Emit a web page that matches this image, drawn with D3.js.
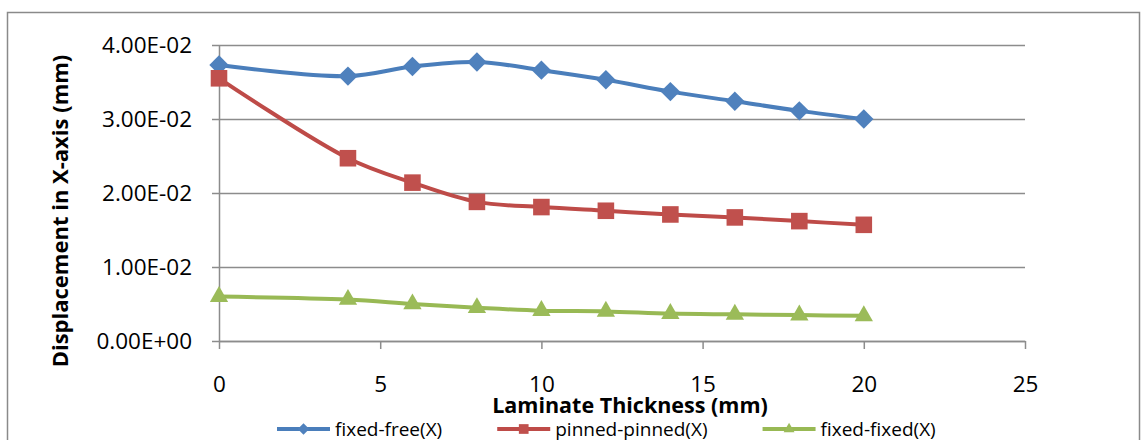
<!DOCTYPE html>
<html>
<head>
<meta charset="utf-8">
<script src="https://cdn.jsdelivr.net/npm/d3@7"></script>
<style>
  html, body { margin: 0; padding: 0; background: #fff; }
  svg { display: block; font-family: "Open Sans", "Noto Sans", sans-serif; }
</style>
</head>
<body>
<svg id="chart" width="1144" height="440"></svg>
<script>
// Laminate thickness (mm) at which each displacement was computed
const thickness = [0, 4, 6, 8, 10, 12, 14, 16, 18, 20];

// Displacement in X (mm) for each boundary condition
const fixedFree     = [0.0373, 0.0358, 0.0371, 0.0377, 0.0366, 0.0353, 0.0337, 0.0324, 0.0311, 0.0300];
const pinnedPinned  = [0.0355, 0.0247, 0.0214, 0.0188, 0.0181, 0.0176, 0.0171, 0.0167, 0.0162, 0.0157];
const fixedFixed    = [0.0060, 0.0056, 0.0050, 0.0045, 0.0041, 0.0040, 0.0037, 0.0036, 0.0035, 0.0034];

const seriesNames = ["fixed-free(X)", "pinned-pinned(X)", "fixed-fixed(X)"];
const xTicks = [0, 5, 10, 15, 20, 25];
const yTicks = [0, 0.01, 0.02, 0.03, 0.04];
const xTitle = "Laminate Thickness (mm)";
const yTitle = "Displacement in X-axis (mm)";

const series = [
  { name: seriesNames[0], values: fixedFree,    color: "#4A7EBB", fill: "#4F81BD", symbol: d3.symbolDiamond2, size: 240, legendSize: 85 },
  { name: seriesNames[1], values: pinnedPinned, color: "#BE4B48", fill: "#C0504D", symbol: d3.symbolSquare2,  size: 350, legendSize: 120 },
  { name: seriesNames[2], values: fixedFixed,   color: "#98B954", fill: "#9BBB59", symbol: d3.symbolTriangle2, size: 240, legendSize: 85 }
];

const svg = d3.select("#chart");

// chart frame
svg.append("rect")
  .attr("x", 7.5).attr("y", 12.5)
  .attr("width", 1132).attr("height", 440)
  .attr("fill", "#fff").attr("stroke", "#8a8a8a").attr("stroke-width", 1.5);

const x = d3.scaleLinear().domain([0, 25]).range([219, 1025]);
const y = d3.scaleLinear().domain([0, 0.04]).range([341, 45]);

// Excel-style scientific labels, e.g. 4.00E-02
function sci(v) {
  const [m, e] = v.toExponential(2).split("e");
  const n = parseInt(e, 10);
  return m + "E" + (n < 0 ? "-" : "+") + String(Math.abs(n)).padStart(2, "0");
}

// horizontal gridlines + y axis
const yAxis = d3.axisLeft(y).tickValues(yTicks).tickFormat(sci)
  .tickSizeInner(-(x.range()[1] - x.range()[0])).tickSizeOuter(0).tickPadding(0);
const gy = svg.append("g").attr("transform", `translate(${x.range()[0]},0)`).call(yAxis);
gy.select(".domain").attr("stroke", "#8c8c8c").attr("stroke-width", 1.5);
gy.selectAll(".tick line").attr("stroke", "#8c8c8c").attr("stroke-width", 1.5)
  .attr("x1", -7);
gy.selectAll(".tick text")
  .attr("x", -27).attr("dy", "0.35em")
  .attr("font-size", 22.5).attr("fill", "#000")
  .attr("font-family", "Open Sans");

// x axis
const xAxis = d3.axisBottom(x).tickValues(xTicks).tickFormat(d3.format("d"))
  .tickSizeInner(8).tickSizeOuter(0).tickPadding(0);
const gx = svg.append("g").attr("transform", `translate(0,${y(0)})`).call(xAxis);
gx.select(".domain").attr("stroke", "#8c8c8c").attr("stroke-width", 1.5);
gx.selectAll(".tick line").attr("stroke", "#8c8c8c").attr("stroke-width", 1.5);
gx.selectAll(".tick text")
  .attr("y", 51).attr("dy", 0)
  .attr("font-size", 22.5).attr("fill", "#000")
  .attr("font-family", "Open Sans");

// axis titles
svg.append("text")
  .attr("x", 630).attr("y", 413)
  .attr("text-anchor", "middle")
  .attr("font-size", 21.5).attr("font-weight", "bold")
  .text(xTitle);

svg.append("text")
  .attr("transform", "translate(68,211) rotate(-90)")
  .attr("text-anchor", "middle")
  .attr("font-size", 22).attr("font-weight", "bold")
  .text(yTitle);

// smoothed series lines with markers
const line = d3.line()
  .x((d, i) => x(thickness[i]))
  .y(d => y(d))
  .curve(d3.curveCatmullRom.alpha(0.5));

series.forEach(s => {
  svg.append("path")
    .attr("d", line(s.values))
    .attr("fill", "none")
    .attr("stroke", s.color)
    .attr("stroke-width", 4)
    .attr("stroke-linejoin", "round");

  const sym = d3.symbol().type(s.symbol).size(s.size);
  svg.append("g").selectAll("path")
    .data(s.values)
    .join("path")
    .attr("d", sym)
    .attr("transform", (d, i) => `translate(${x(thickness[i])},${y(d)})`)
    .attr("fill", s.fill);
});

// legend along the bottom
const legend = svg.append("g").attr("transform", "translate(277,429)");
let lx = 0;
series.forEach(s => {
  const g = legend.append("g").attr("transform", `translate(${lx},0)`);
  g.append("line").attr("x1", 0).attr("x2", 53).attr("y1", 0).attr("y2", 0)
    .attr("stroke", s.color).attr("stroke-width", 4);
  const sym = d3.symbol().type(s.symbol).size(s.legendSize);
  g.append("path").attr("d", sym).attr("transform", "translate(26.5,0)").attr("fill", s.fill);
  const t = g.append("text").attr("x", 58).attr("y", 0).attr("dy", "0.35em")
    .attr("font-size", 19).text(s.name);
  lx += 58 + t.node().getComputedTextLength() + 55;
});
</script>
</body>
</html>
